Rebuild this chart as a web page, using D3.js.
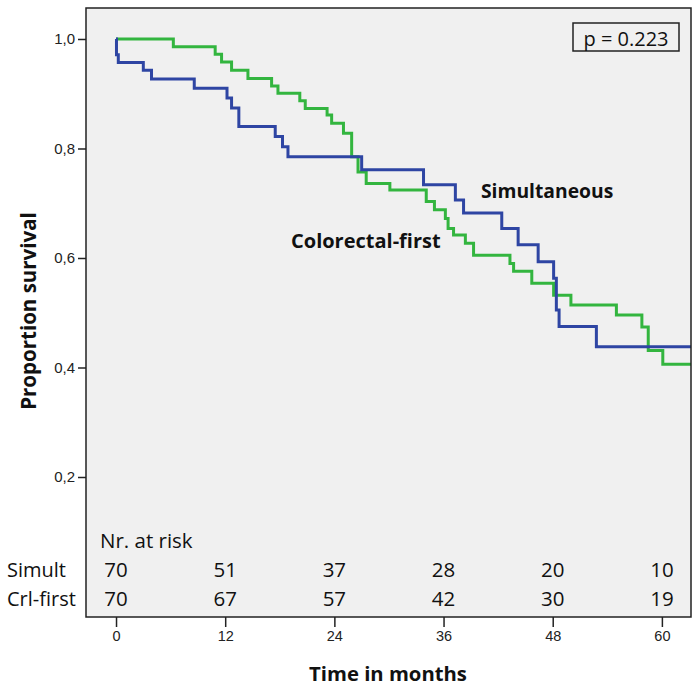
<!DOCTYPE html>
<html><head><meta charset="utf-8">
<script src="https://cdn.jsdelivr.net/npm/d3@7"></script>
<style>body{margin:0;background:#fff}svg{display:block}</style>
</head><body>
<svg id="c" width="700" height="688"></svg>
<script>
// ---- data ----
const timeTicks = [0, 12, 24, 36, 48, 60];
const survTicks = [0.2, 0.4, 0.6, 0.8, 1.0];
const simultTimes = [0, 0.05, 0.25, 3.0, 3.9, 8.6, 12.2, 12.7, 13.5, 17.5, 18.3, 18.9, 27.0, 33.8, 37.3, 38.2, 42.4, 44.2, 46.4, 48.1, 48.4, 48.7, 52.8, 63.2];
const simultSurv  = [1.0, 0.971, 0.957, 0.943, 0.927, 0.910, 0.892, 0.874, 0.840, 0.822, 0.803, 0.785, 0.761, 0.734, 0.706, 0.682, 0.654, 0.624, 0.593, 0.563, 0.505, 0.475, 0.438, 0.438];
const crlTimes = [0, 6.3, 10.9, 11.6, 12.7, 14.5, 17.1, 17.8, 20.2, 20.8, 23.2, 23.7, 25.0, 25.9, 26.6, 27.5, 30.1, 34.1, 35.0, 36.2, 36.5, 37.1, 38.4, 39.3, 43.3, 43.7, 45.7, 48.1, 50.0, 55.0, 57.8, 58.5, 60.1, 63.2];
const crlSurv  = [1.0, 0.986, 0.972, 0.958, 0.943, 0.928, 0.914, 0.901, 0.887, 0.873, 0.861, 0.846, 0.828, 0.785, 0.757, 0.736, 0.724, 0.703, 0.688, 0.672, 0.654, 0.642, 0.627, 0.605, 0.590, 0.576, 0.554, 0.532, 0.514, 0.496, 0.474, 0.431, 0.406, 0.406];
const groupNames = ["Simult", "Crl-first"];
const riskSimult = [70, 51, 37, 28, 20, 10];
const riskCrl = [70, 67, 57, 42, 30, 19];
const curveLabels = ["Simultaneous", "Colorectal-first"];
const pText = "p = 0.223";
const colors = {simult: "#2e45a3", crl: "#33b53f"};

// ---- layout ----
const svg = d3.select("#c");
const L = 86, R = 691, T = 8, B = 617;
const x = d3.scaleLinear().domain([-3.3, 63.2]).range([L, R]);
const y = d3.scaleLinear().domain([-0.0557, 1.0566]).range([B, T]);

svg.append("rect").attr("x", L).attr("y", T).attr("width", R - L).attr("height", B - T)
  .attr("fill", "#f0f0f0");

// curves
const line = d3.line().x(d => x(d[0])).y(d => y(d[1])).curve(d3.curveStepAfter);
const series = [
  {t: crlTimes, s: crlSurv, c: colors.crl},
  {t: simultTimes, s: simultSurv, c: colors.simult}
];
series.forEach(sr => {
  svg.append("path").datum(sr.t.map((t, i) => [t, sr.s[i]]))
    .attr("d", line).attr("fill", "none").attr("stroke", sr.c)
    .attr("stroke-width", 3).attr("stroke-linejoin", "miter");
});

// frame
svg.append("rect").attr("x", L).attr("y", T).attr("width", R - L).attr("height", B - T)
  .attr("fill", "none").attr("stroke", "#222").attr("stroke-width", 1.5);

// axes
const yAxis = d3.axisLeft(y).tickValues(survTicks).tickSize(8).tickPadding(3)
  .tickFormat(d => d3.format(".1f")(d).replace(".", ","));
const gy = svg.append("g").attr("transform", `translate(${L},0)`).call(yAxis);
gy.select(".domain").remove();
gy.selectAll("line").attr("stroke", "#222").attr("stroke-width", 1.5);
gy.selectAll("text").attr("font-family", "Liberation Sans, Arial, sans-serif").attr("font-size", 15).attr("fill", "#222");

const xAxis = d3.axisBottom(x).tickValues(timeTicks).tickSize(10).tickPadding(4);
const gx = svg.append("g").attr("transform", `translate(0,${B})`).call(xAxis);
gx.select(".domain").remove();
gx.selectAll("line").attr("stroke", "#222").attr("stroke-width", 1.5);
gx.selectAll("text").attr("font-family", "Liberation Sans, Arial, sans-serif").attr("font-size", 14.5).attr("fill", "#222");

// axis titles
svg.append("text").attr("x", 388).attr("y", 673).attr("text-anchor", "middle")
  .attr("dominant-baseline", "central")
  .attr("font-family", "Open Sans, sans-serif").attr("font-weight", 700).attr("font-size", 20.3)
  .attr("fill", "#111").text("Time in months");
svg.append("text").attr("transform", "translate(28,311) rotate(-90)").attr("text-anchor", "middle")
  .attr("dominant-baseline", "central")
  .attr("font-family", "Open Sans, sans-serif").attr("font-weight", 700).attr("font-size", 20.5)
  .attr("fill", "#111").text("Proportion survival");

// curve labels
svg.append("text").attr("x", 481).attr("y", 190).attr("dominant-baseline", "central")
  .attr("font-family", "Open Sans, sans-serif").attr("font-weight", 700).attr("font-size", 19.3)
  .attr("fill", "#111").text(curveLabels[0]);
svg.append("text").attr("x", 291).attr("y", 240).attr("dominant-baseline", "central")
  .attr("font-family", "Open Sans, sans-serif").attr("font-weight", 700).attr("font-size", 20)
  .attr("fill", "#111").text(curveLabels[1]);

// p-value box
svg.append("rect").attr("x", 573).attr("y", 23).attr("width", 106).attr("height", 28)
  .attr("fill", "none").attr("stroke", "#222").attr("stroke-width", 1.5);
svg.append("text").attr("x", 626).attr("y", 38).attr("text-anchor", "middle").attr("dominant-baseline", "central")
  .attr("font-family", "Open Sans, sans-serif").attr("font-size", 20).attr("fill", "#111").text(pText);

// risk table
const tf = "Open Sans, sans-serif";
svg.append("text").attr("x", 100).attr("y", 540).attr("dominant-baseline", "central")
  .attr("font-family", tf).attr("font-size", 20.5).attr("fill", "#111").text("Nr. at risk");
const rows = [riskSimult, riskCrl];
const rowY = [569, 598];
rows.forEach((r, i) => {
  svg.append("text").attr("x", 7).attr("y", rowY[i]).attr("dominant-baseline", "central")
    .attr("font-family", tf).attr("font-size", 20).attr("fill", "#111").text(groupNames[i]);
  svg.append("g").selectAll("text").data(r).join("text")
    .attr("x", (d, j) => x(timeTicks[j])).attr("y", rowY[i])
    .attr("text-anchor", "middle").attr("dominant-baseline", "central")
    .attr("font-family", tf).attr("font-size", 20.5).attr("fill", "#111").text(d => d);
});
</script>
</body></html>
